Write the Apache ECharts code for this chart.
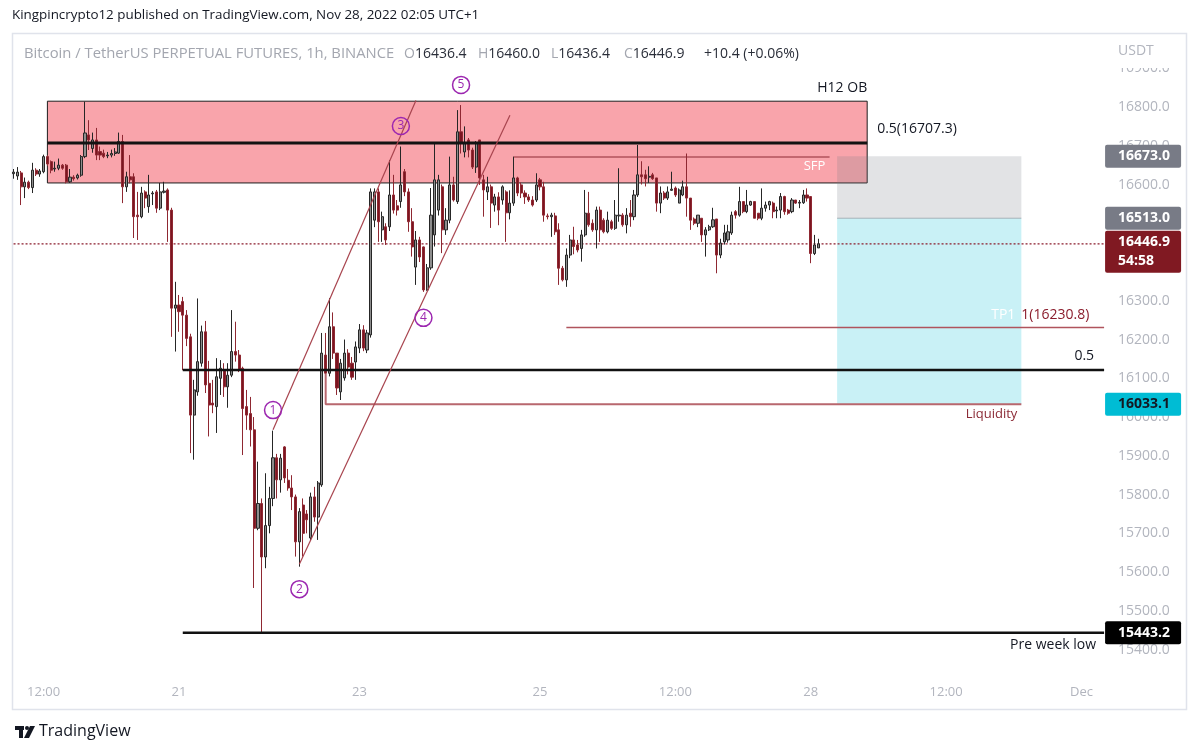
<!DOCTYPE html>
<html><head><meta charset="utf-8">
<script src="https://cdn.jsdelivr.net/npm/echarts@6/dist/echarts.min.js"></script>
<style>html,body{margin:0;padding:0;background:#fff}#c{width:1200px;height:755px}</style>
</head><body><div id="c"></div>
<script>
// ---- candle data: [open, close, low, high], hourly from Nov 19 04:00 ----
const ohlc = [
[16628,16632,16615,16640],[16622,16632,16612,16645],[16630,16594,16547,16635],[16594,16606,16565,16618],[16606,16592,16588,16610],
[16592,16637,16578,16656],[16637,16627,16622,16642],[16627,16635,16620,16640],[16633,16672,16629,16677],[16672,16653,16648,16676],
[16659,16637,16629,16662],[16640,16642,16633,16659],[16642,16650,16637,16667],[16650,16642,16638,16653],[16650,16607,16603,16653],
[16607,16619,16604,16640],[16619,16615,16610,16624],[16617,16624,16613,16628],[16624,16672,16620,16676],[16672,16733,16668,16814],
[16728,16715,16689,16766],[16693,16715,16682,16734],[16715,16676,16663,16746],[16685,16676,16663,16698],[16681,16672,16668,16690],
[16674,16676,16668,16684],[16676,16680,16670,16690],[16680,16684,16674,16694],[16681,16711,16679,16734],[16711,16594,16552,16728],
[16594,16620,16581,16633],[16620,16612,16603,16676],[16620,16517,16462,16629],[16521,16517,16457,16581],[16517,16578,16513,16594],
[16581,16565,16539,16585],[16543,16573,16527,16625],[16576,16578,16547,16583],[16581,16539,16527,16586],[16539,16581,16534,16604],
[16580,16583,16577,16607],[16586,16534,16452,16590],[16534,16281,16207,16540],[16281,16289,16169,16349],[16289,16272,16220,16315],
[16298,16263,16121,16310],[16263,16203,16183,16276],[16207,16005,15907,16215],[16005,16070,15890,16096],[16065,16143,16055,16306],
[16139,16220,16130,16236],[16220,16083,16062,16248],[16087,16031,15950,16145],[16036,16031,16010,16096],[16027,16104,15959,16152],
[16100,16126,16057,16147],[16121,16078,16052,16139],[16078,16108,16024,16139],[16108,16169,16103,16276],[16169,16160,16143,16246],
[16160,16121,16116,16173],[16126,16022,15902,16130],[16027,16005,15967,16070],[16009,15967,15924,16052],[15967,15713,15559,16000],
[15713,15777,15708,15885],[15777,15639,15443.2,15790],[15639,15720,15610,15855],[15720,15790,15700,15820],[15790,15895,15770,15965],
[15895,15838,15790,15905],[15838,15894,15805,15905],[15923,15843,15830,15925],[15837,15817,15810,15866],[15817,15794,15760,15850],
[15794,15678,15640,15800],[15678,15756,15614,15765],[15773,15700,15640,15790],[15750,15735,15700,15760],[15688,15794,15683,15805],
[15794,15742,15730,15820],[15742,15830,15683,15835],[15825,16165,15820,16217],[16160,16113,16090,16217],[16113,16233,16105,16307],
[16233,16165,16150,16270],[16165,16075,16057,16165],[16065,16139,16044,16150],[16101,16165,16094,16200],[16165,16129,16110,16175],
[16139,16103,16096,16155],[16142,16181,16096,16195],[16178,16225,16165,16240],[16225,16178,16170,16237],[16173,16217,16165,16225],
[16212,16581,16205,16590],[16508,16581,16490,16590],[16581,16504,16452,16590],[16483,16517,16452,16530],[16491,16457,16444,16500],
[16491,16573,16480,16663],[16573,16534,16525,16625],[16545,16534,16520,16560],[16556,16599,16540,16698],[16633,16581,16570,16640],
[16581,16504,16478,16590],[16504,16439,16414,16539],[16387,16457,16341,16480],[16457,16413,16400,16465],[16439,16328,16323,16440],
[16328,16385,16326,16395],[16385,16521,16380,16591],[16470,16612,16440,16706],[16534,16612,16520,16625],[16594,16483,16423,16600],
[16483,16508,16470,16539],[16508,16599,16500,16672],[16599,16560,16556,16620],[16556,16736,16550,16792],[16736,16706,16680,16805],
[16684,16706,16670,16750],[16715,16689,16670,16720],[16689,16645,16640,16695],[16645,16706,16630,16712],[16715,16617,16599,16715],
[16612,16586,16517,16625],[16581,16594,16560,16620],[16594,16552,16488,16600],[16547,16568,16530,16576],[16568,16534,16495,16580],
[16560,16594,16548,16598],[16581,16527,16452,16585],[16527,16552,16510,16585],[16552,16617,16545,16672],[16617,16578,16570,16620],
[16599,16578,16565,16605],[16578,16568,16550,16585],[16568,16560,16555,16575],[16560,16547,16543,16570],[16560,16599,16555,16629],
[16612,16594,16585,16617],[16594,16521,16504,16607],[16519,16517,16510,16525],[16517,16521,16465,16527],[16519,16478,16470,16527],
[16483,16384,16341,16500],[16384,16354,16350,16390],[16354,16418,16336,16435],[16418,16457,16410,16470],[16457,16440,16420,16491],
[16444,16431,16425,16457],[16435,16470,16401,16483],[16470,16526,16465,16586],[16526,16496,16491,16581],[16500,16483,16478,16510],
[16483,16534,16435,16543],[16534,16483,16452,16543],[16508,16478,16474,16513],[16478,16508,16474,16530],[16504,16487,16483,16509],
[16487,16521,16483,16560],[16519,16521,16504,16642],[16521,16496,16491,16526],[16496,16521,16474,16539],[16526,16517,16491,16560],
[16517,16573,16508,16586],[16573,16625,16568,16702],[16625,16620,16600,16660],[16625,16615,16595,16638],[16619,16621,16604,16647],
[16625,16615,16612,16630],[16617,16552,16530,16617],[16552,16578,16526,16595],[16578,16565,16560,16583],[16565,16581,16560,16595],
[16585,16588,16584,16633],[16591,16573,16568,16595],[16552,16586,16552,16590],[16573,16594,16570,16610],[16594,16565,16517,16680],
[16565,16508,16483,16565],[16511,16500,16495,16515],[16500,16521,16490,16521],[16513,16470,16452,16513],[16470,16483,16414,16490],
[16483,16491,16480,16496],[16491,16509,16488,16540],[16511,16418,16371,16511],[16418,16449,16410,16460],[16452,16475,16445,16496],
[16457,16478,16450,16496],[16475,16521,16470,16530],[16530,16521,16512,16534],[16521,16556,16517,16594],[16556,16530,16526,16556],
[16530,16547,16526,16586],[16547,16556,16545,16558],[16556,16513,16513,16556],[16526,16513,16508,16526],[16513,16539,16508,16590],
[16539,16547,16530,16556],[16547,16556,16534,16558],[16552,16530,16513,16556],[16532,16534,16513,16543],[16534,16569,16513,16578],
[16569,16530,16522,16571],[16534,16526,16522,16537],[16530,16560,16526,16565],[16560,16552,16550,16560],[16552,16554,16539,16560],
[16553,16573,16550,16586],[16573,16565,16556,16590],[16569,16422,16397,16569],[16422,16444,16418,16470],[16436.4,16446.9,16436.4,16460.0]
];

// ---- axes ----
const SLOT_COUNT = 291;            // hourly slots incl. empty future space
const xTickIndex = [8, 44, 92, 140, 176, 212, 248, 284];
const xTickText  = ['12:00', '21', '23', '25', '12:00', '28', '12:00', 'Dec'];
const yMin = 15300, yMax = 17000, yStep = 100;

// ---- drawn levels ----
const obZone      = [9, 227, 16815, 16604];      // H12 order block [x0,x1,top,bottom]
const obMid       = 16707.3;
const stopZone    = [219, 268, 16673, 16513];
const targetZone  = [219, 268, 16513, 16033.1];
const sfpLevel    = [133, 217, 16671];
const tp1Level    = [147, 290, 16230.8];
const halfLevel   = [45, 290, 16121.4];
const liqPath     = [[83, 16112], [83, 16033.1], [268, 16033.1]];
const preWeekLow  = [45, 290, 15443.2];
const lastPrice   = 16446.9;
const channelA    = [[69, 15967], [107, 16817]];
const channelB    = [[76, 15620], [132, 16779]];
const waveIdx     = [69, 76, 103, 109, 119];
const wavePrice   = [16018, 15556, 16751, 16256, 16857];
const waveText    = ['1', '2', '3', '4', '5'];
const tagPrices   = [16673.0, 16513.0, 16446.9, 16033.1, 15443.2];

// categories (hour slots)
const categories = [];
for (let i = 0; i < SLOT_COUNT; i++) {
  const t = 4 + i; let d = 19 + Math.floor(t / 24); const h = t % 24; let m = 'Nov';
  if (d > 30) { d -= 30; m = 'Dec'; }
  categories.push(m + ' ' + d + ' ' + String(h).padStart(2, '0') + ':00');
}

const FONT = 'Open Sans, Noto Sans, sans-serif';
const chart = echarts.init(document.getElementById('c'), null, {renderer: 'canvas'});

function hLine(name, seg, color, width, type, z) {
  return {type: 'line', name, silent: true, z: z || 4, symbol: 'none', animation: false,
    data: [[seg[0], seg[2]], [seg[1], seg[2]]],
    lineStyle: {color, width, type: type || 'solid', opacity: 1}};
}
function pathLine(name, pts, color, width, z) {
  return {type: 'line', name, silent: true, z: z || 4, symbol: 'none', animation: false,
    data: pts, lineStyle: {color, width, opacity: 1}};
}
function zone(z, color, border) {
  return [{xAxis: categories[z[0]], yAxis: z[2], itemStyle: {color, opacity: 1, borderColor: border || 'transparent', borderWidth: border ? 1 : 0}},
          {xAxis: categories[z[1]], yAxis: z[3]}];
}
function txt(x, y, text, pos, dist, color, size, extra) {
  return {value: [x, y], label: Object.assign({show: true, formatter: text, position: pos, distance: dist,
    color, fontSize: size, fontFamily: FONT}, extra || {})};
}

const tagStyles = [
  {bg: '#787b86', fg: '#ffffff', text: '16673.0'},
  {bg: '#787b86', fg: '#ffffff', text: '16513.0'},
  {bg: '#801922', fg: '#ffffff', text: '16446.9\n54:58'},
  {bg: '#00bcd4', fg: '#131722', text: '16033.1'},
  {bg: '#000000', fg: '#ffffff', text: '15443.2'}
];

const rich14 = {g: {fill: '#a3a6af', fontSize: 14, fontFamily: FONT}, d: {fill: '#2a2e39', fontSize: 14, fontFamily: FONT}};

const option = {
  animation: false,
  backgroundColor: '#ffffff',
  grid: [
    {left: 11.67, right: 94.03, top: 29.49, height: 658.87},
    {left: 11.67, right: 94.03, top: 681, height: 1}
  ],
  xAxis: [
    {type: 'category', gridIndex: 0, data: categories, boundaryGap: true,
     axisLine: {show: false}, axisTick: {show: false}, axisLabel: {show: false}, splitLine: {show: false}},
    {type: 'category', gridIndex: 1, data: categories, boundaryGap: true,
     axisLine: {show: false}, axisTick: {show: false}, splitLine: {show: false},
     axisLabel: {show: true, margin: 4, color: '#b2b5be', fontSize: 13, fontFamily: FONT,
       interval: (idx) => xTickIndex.indexOf(idx) >= 0,
       formatter: (v, idx) => { const k = xTickIndex.indexOf(idx); return k >= 0 ? xTickText[k] : ''; }}}
  ],
  yAxis: [
    {type: 'value', gridIndex: 0, position: 'right', min: yMin, max: yMax, interval: yStep, scale: true,
     axisLine: {show: false}, axisTick: {show: false}, splitLine: {show: false},
     axisLabel: {color: '#b2b5be', fontSize: 14, fontFamily: FONT, margin: 12, align: 'left',
       formatter: v => (v <= yMin || v >= yMax) ? '' : v.toFixed(1)}},
    {type: 'value', gridIndex: 1, show: false}
  ],
  series: [
    {type: 'candlestick', name: 'BTCUSDT', data: ohlc, z: 2, barWidth: 2.6, silent: true,
     itemStyle: {color: '#8d8d8d', color0: '#7b1520', borderColor: '#262626', borderColor0: '#8f2832', borderWidth: 1}},
    {type: 'line', name: 'zones', data: [], z: 3, silent: true,
     markArea: {silent: true, label: {show: false}, data: [
       zone(obZone, 'rgba(242,54,69,0.45)', '#1e1e1e'),
       zone(stopZone, 'rgba(120,123,134,0.21)'),
       zone(targetZone, 'rgba(0,188,212,0.21)')
     ]}},
    hLine('obMid', [obZone[0], obZone[1], obMid], '#131313', 3),
    hLine('sfp', sfpLevel, '#8e2a35', 1),
    hLine('split', [stopZone[0], stopZone[1], stopZone[3]], 'rgba(120,123,134,0.5)', 1),
    hLine('tp1', tp1Level, '#b0545d', 1.5),
    hLine('half', halfLevel, '#111111', 2.5),
    pathLine('liquidity', liqPath, '#b8676e', 2),
    hLine('preWeekLow', preWeekLow, '#111111', 2.5),
    hLine('last', [0, SLOT_COUNT - 1, lastPrice], '#8b1c2c', 1.2, [2, 2], 1),
    pathLine('channelA', channelA, '#a8444e', 1.2),
    pathLine('channelB', channelB, '#a8444e', 1.2),
    {type: 'scatter', name: 'waves', z: 6, silent: true, symbol: 'circle', symbolSize: 17,
     itemStyle: {color: 'rgba(255,255,255,0)', borderColor: '#9c27b0', borderWidth: 1.5, opacity: 1},
     label: {show: true, position: 'inside', color: '#9c27b0', fontSize: 12, fontFamily: FONT,
       formatter: p => waveText[p.dataIndex]},
     data: waveIdx.map((x, k) => [x, wavePrice[k]])},
    {type: 'scatter', name: 'texts', z: 7, silent: true, symbolSize: 0, clip: false,
     itemStyle: {opacity: 1},
     data: [
       txt(obZone[1], 16849, 'H12 OB', 'left', 0, '#131722', 14),
       txt(obZone[1], 16743, '0.5(16707.3)', 'right', 10, '#131722', 14),
       txt(213, 16648, 'SFP', 'inside', 0, '#ffffff', 13),
       txt(stopZone[1], 16263, 'TP1', 'left', 6, '#ffffff', 14),
       txt(stopZone[1], 16263, '1(16230.8)', 'right', 0, '#8b1c2c', 14),
       txt(SLOT_COUNT - 1, 16157, '0.5', 'left', 10, '#131722', 14),
       txt(stopZone[1], 16008, 'Liquidity', 'left', 4, '#8b2a35', 13),
       txt(SLOT_COUNT - 1, 15411, 'Pre week low', 'left', 8, '#131722', 14)
     ]},
    {type: 'scatter', name: 'tags', z: 8, silent: true, symbolSize: 0, clip: false,
     itemStyle: {opacity: 1},
     data: tagPrices.map((p, k) => ({value: [SLOT_COUNT - 1, p],
       label: {show: true, position: 'right', distance: 1, formatter: tagStyles[k].text,
         backgroundColor: tagStyles[k].bg, color: tagStyles[k].fg, fontSize: 14, fontWeight: 'bold', fontFamily: FONT,
         width: 56, align: 'left',
         lineHeight: k === 2 ? 19 : 16, padding: k === 2 ? [2, 7, 2, 13] : [4, 7, 3, 13],
         borderRadius: 2, offset: k === 2 ? [0, 8] : [0, 0]}}))}
  ],
  graphic: [
    {type: 'rect', z: 0, silent: true, shape: {x: 12.5, y: 33.5, width: 1174, height: 676},
     style: {fill: 'none', stroke: '#e0e3eb', lineWidth: 1.5}},
    {type: 'rect', z: 50, silent: true, shape: {x: 1108, y: 36, width: 76, height: 32}, style: {fill: '#ffffff'}},
    {type: 'text', z: 51, left: 1118, top: 44, style: {text: 'USDT', fill: '#b2b5be', fontSize: 14, fontFamily: FONT}},
    {type: 'text', z: 51, left: 12, top: 9, style: {text: 'Kingpincrypto12 published on TradingView.com, Nov 28, 2022 02:05 UTC+1', fill: '#131722', fontSize: 13.4, fontFamily: FONT}},
    {type: 'text', z: 51, left: 24, top: 46, style: {text: 'Bitcoin / TetherUS PERPETUAL FUTURES, 1h, BINANCE', fill: '#a3a6af', fontSize: 14.8, fontFamily: FONT}},
    {type: 'text', z: 51, left: 404, top: 47, style: {text: '{g|O}{d|16436.4}', rich: rich14}},
    {type: 'text', z: 51, left: 478, top: 47, style: {text: '{g|H}{d|16460.0}', rich: rich14}},
    {type: 'text', z: 51, left: 551, top: 47, style: {text: '{g|L}{d|16436.4}', rich: rich14}},
    {type: 'text', z: 51, left: 624, top: 47, style: {text: '{g|C}{d|16446.9}', rich: rich14}},
    {type: 'text', z: 51, left: 704, top: 47, style: {text: '+10.4 (+0.06%)', fill: '#2a2e39', fontSize: 14, fontFamily: FONT}},
    // TradingView logo
    {type: 'rect', z: 51, silent: true, shape: {x: 15, y: 726, width: 9, height: 4}, style: {fill: '#131722'}},
    {type: 'rect', z: 51, silent: true, shape: {x: 19, y: 726, width: 4, height: 12}, style: {fill: '#131722'}},
    {type: 'circle', z: 51, silent: true, shape: {cx: 27, cy: 728, r: 2}, style: {fill: '#131722'}},
    {type: 'polygon', z: 51, silent: true, shape: {points: [[30, 726], [35, 726], [29, 738], [24, 738]]}, style: {fill: '#131722'}},
    {type: 'text', z: 51, left: 39, top: 723, style: {text: 'TradingView', fill: '#131722', fontSize: 16, fontFamily: FONT}}
  ]
};
chart.setOption(option);
</script></body></html>
